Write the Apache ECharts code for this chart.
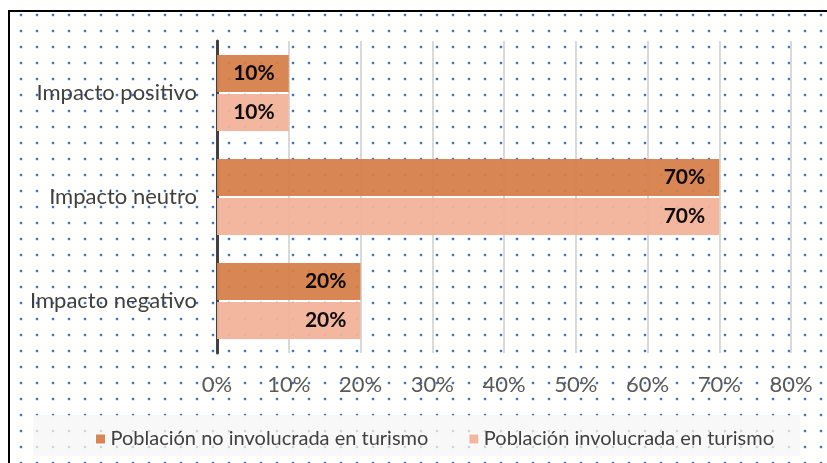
<!DOCTYPE html>
<html>
<head>
<meta charset="utf-8">
<script src="https://cdn.jsdelivr.net/npm/echarts@6/dist/echarts.min.js"></script>
<style>
  html, body { margin: 0; padding: 0; background: #fff; }
  #chart { width: 827px; height: 463px; }
</style>
</head>
<body>
<div id="chart"></div>
<script>
// data
const categories = ['Impacto positivo', 'Impacto neutro', 'Impacto negativo']
const noInvolucrada = [10, 70, 20]
const involucrada = [10, 70, 20]
const seriesNames = ['Población no involucrada en turismo', 'Población involucrada en turismo']

const fontFamily = 'Lato, "Open Sans", sans-serif'

// dotted paper background tile
function dotTile() {
  const c = document.createElement('canvas')
  c.width = 16
  c.height = 16
  const ctx = c.getContext('2d')
  ctx.fillStyle = '#4472c4'
  ctx.fillRect(4, 14, 2, 2)
  ctx.fillStyle = 'rgba(68,114,196,0.2)'
  ctx.fillRect(3, 14, 1, 2)
  ctx.fillRect(6, 14, 1, 2)
  ctx.fillRect(4, 13, 2, 1)
  ctx.fillRect(4, 0, 2, 1)
  return c
}

const chart = echarts.init(document.getElementById('chart'))

const barLabel = {
  show: true,
  position: 'insideRight',
  distance: 14,
  formatter: '{c}%',
  color: '#000',
  fontWeight: 'bold',
  fontSize: 21,
  fontFamily: fontFamily
}

chart.setOption({
  animation: false,
  backgroundColor: '#fff',
  graphic: [
    {
      type: 'rect',
      z: -10,
      shape: { x: 10, y: 12, width: 830, height: 470 },
      style: { fill: { image: dotTile(), repeat: 'repeat' } }
    },
    {
      type: 'rect',
      z: -9,
      shape: { x: 33, y: 415, width: 767, height: 41 },
      style: { fill: 'rgba(245,245,245,0.75)' }
    },
    {
      type: 'rect',
      z: 100,
      shape: { x: 9, y: 11, width: 840, height: 480 },
      style: { fill: 'none', stroke: '#000', lineWidth: 2 }
    }
  ],
  legend: {
    left: 90,
    top: 424,
    itemWidth: 10,
    itemHeight: 10,
    itemGap: 40,
    icon: 'rect',
    itemStyle: { borderColor: '#fff', borderWidth: 1 },
    textStyle: { color: '#404040', fontSize: 20, fontFamily: fontFamily },
    data: seriesNames
  },
  grid: {
    left: 217,
    right: 36,
    top: 41,
    bottom: 110,
    containLabel: false
  },
  xAxis: {
    type: 'value',
    min: 0,
    max: 80,
    interval: 10,
    axisLine: { show: false },
    axisTick: { show: false },
    axisLabel: {
      formatter: '{value}%',
      color: '#595959',
      fontSize: 22,
      fontFamily: fontFamily,
      margin: 21
    },
    splitLine: { lineStyle: { color: '#d9d9d9', width: 2 } }
  },
  yAxis: {
    type: 'category',
    inverse: true,
    data: categories,
    axisLine: { lineStyle: { color: '#404040', width: 3 } },
    axisTick: { show: false },
    axisLabel: {
      color: '#404040',
      fontSize: 22,
      fontFamily: fontFamily,
      margin: 20
    }
  },
  series: [
    {
      name: seriesNames[0],
      type: 'bar',
      data: noInvolucrada,
      barWidth: 37,
      barGap: '5%',
      itemStyle: { color: '#d6804a', opacity: 0.95 },
      label: barLabel
    },
    {
      name: seriesNames[1],
      type: 'bar',
      data: involucrada,
      barWidth: 37,
      barGap: '5%',
      itemStyle: { color: '#f2b39b', opacity: 0.95 },
      label: barLabel
    }
  ]
})
</script>
</body>
</html>
